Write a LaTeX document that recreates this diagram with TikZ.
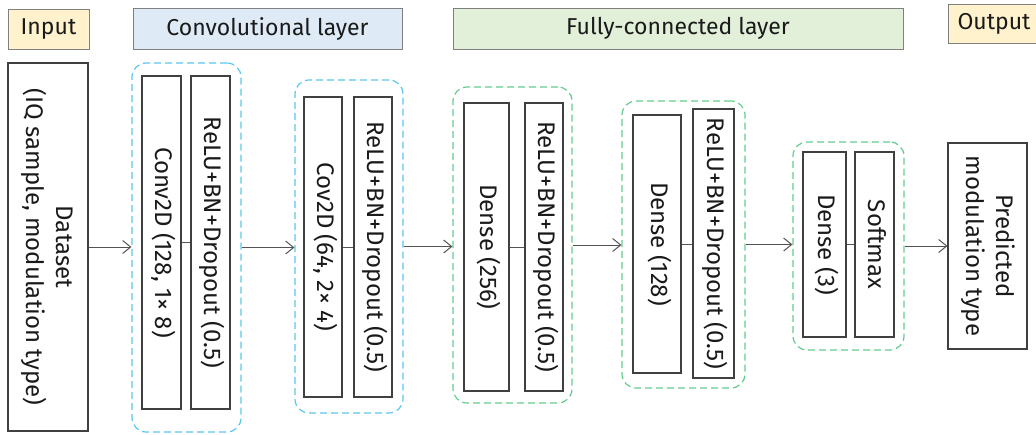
\documentclass[tikz,border=0pt]{standalone}
\usepackage{fontspec}
\setmainfont{Fira Sans}
\usetikzlibrary{arrows.meta}
\definecolor{edge}{HTML}{404040}
\definecolor{hdredge}{HTML}{808080}
\definecolor{inyel}{HTML}{FFF2CC}
\definecolor{convblue}{HTML}{DEEBF7}
\definecolor{fcgreen}{HTML}{E2F0D9}
\definecolor{dashblue}{HTML}{5BC6F0}
\definecolor{dashgreen}{HTML}{62CC8E}
\definecolor{txt}{HTML}{1A1A1A}
\newcommand{\vtext}[1]{\rotatebox[origin=c]{-90}{\begin{tabular}{@{}c@{}}#1\end{tabular}}}
\begin{document}
\begin{tikzpicture}[x=1pt,y=-1pt,
  font=\fontsize{24}{30}\selectfont, text=txt,
  hdr/.style={draw=hdredge, line width=0.9pt, inner sep=0pt, font=\fontsize{23}{28}\selectfont},
  box/.style={draw=edge, line width=1.1pt, fill=white, inner sep=0pt},
  grp/.style={draw=#1, line width=1.2pt, dash pattern=on 7pt off 4pt, rounded corners=14pt, inner sep=0pt},
  arr/.style={draw=edge!90, line width=1pt, -{Straight Barb[length=8pt,width=13pt,line width=1pt]}},
  link/.style={draw=edge!90, line width=1pt}
]
\useasboundingbox (0,0) rectangle (1036,434);
% headers
\node[hdr, fill=inyel, minimum width=81pt, minimum height=40pt] (hin) at (48.5,29) {Input};
\node[hdr, fill=convblue, minimum width=269pt, minimum height=41pt] (hconv) at (267.5,28.5) {Convolutional layer};
\node[hdr, fill=fcgreen, minimum width=450pt, minimum height=41pt] (hfc) at (678,28.5) {Fully-connected layer};
\node[hdr, fill=inyel, minimum width=92pt, minimum height=39pt] (hout) at (994,23.5) {Output};
% groups
\node[grp=dashblue, minimum width=109pt, minimum height=369pt] (g1) at (186.5,247.5) {};
\node[grp=dashblue, minimum width=108pt, minimum height=333pt] (g2) at (349,246.5) {};
\node[grp=dashgreen, minimum width=119pt, minimum height=316pt] (g3) at (512.5,245) {};
\node[grp=dashgreen, minimum width=123pt, minimum height=287pt] (g4) at (683.5,244.5) {};
\node[grp=dashgreen, minimum width=111pt, minimum height=208pt] (g5) at (848.5,246) {};
% boxes
\node[box, minimum width=80pt, minimum height=368pt] (data) at (48,247) {\vtext{Dataset\\(IQ sample, modulation type)}};
\node[box, minimum width=39pt, minimum height=333pt] (c1) at (161.5,242.5) {\vtext{Conv2D (128, 1× 8)}};
\node[box, minimum width=39pt, minimum height=333pt] (r1) at (210.5,242.5) {\vtext{ReLU+BN+Dropout (0.5)}};
\node[box, minimum width=38pt, minimum height=300pt] (c2) at (323,247) {\vtext{Cov2D (64, 2× 4)}};
\node[box, minimum width=38pt, minimum height=300pt] (r2) at (373,247) {\vtext{ReLU+BN+Dropout (0.5)}};
\node[box, minimum width=45pt, minimum height=288pt] (d1) at (486.5,247) {\vtext{Dense (256)}};
\node[box, minimum width=38pt, minimum height=288pt] (r3) at (544,247) {\vtext{ReLU+BN+Dropout (0.5)}};
\node[box, minimum width=48pt, minimum height=258pt] (d2) at (657,244) {\vtext{Dense (128)}};
\node[box, minimum width=41pt, minimum height=269pt] (r4) at (713.5,243.5) {\vtext{ReLU+BN+Dropout (0.5)}};
\node[box, minimum width=43pt, minimum height=185pt] (d3) at (824.5,244.5) {\vtext{Dense (3)}};
\node[box, minimum width=39pt, minimum height=185pt] (sm) at (874.5,244.5) {\vtext{Softmax}};
\node[box, minimum width=79pt, minimum height=206pt] (out) at (987.5,246) {\vtext{Predicted\\modulation type}};
% links inside groups
\draw[link] (c1.east) -- (r1.west);
\draw[link] (c2.east) -- (r2.west);
\draw[link] (d1.east) -- (r3.west);
\draw[link] (d2.east) -- (d2.east -| r4.west);
\draw[link] (d3.east) -- (sm.west);
% arrows
\draw[arr] (data.east) -- (data.east -| g1.west);
\draw[arr] (g1.east) -- (g1.east -| g2.west);
\draw[arr] (g2.east) -- (g2.east -| g3.west);
\draw[arr] (g3.east) -- (g3.east -| g4.west);
\draw[arr] (g4.east) -- (g4.east -| g5.west);
\draw[arr] (g5.east) -- (g5.east -| out.west);
\end{tikzpicture}
\end{document}
